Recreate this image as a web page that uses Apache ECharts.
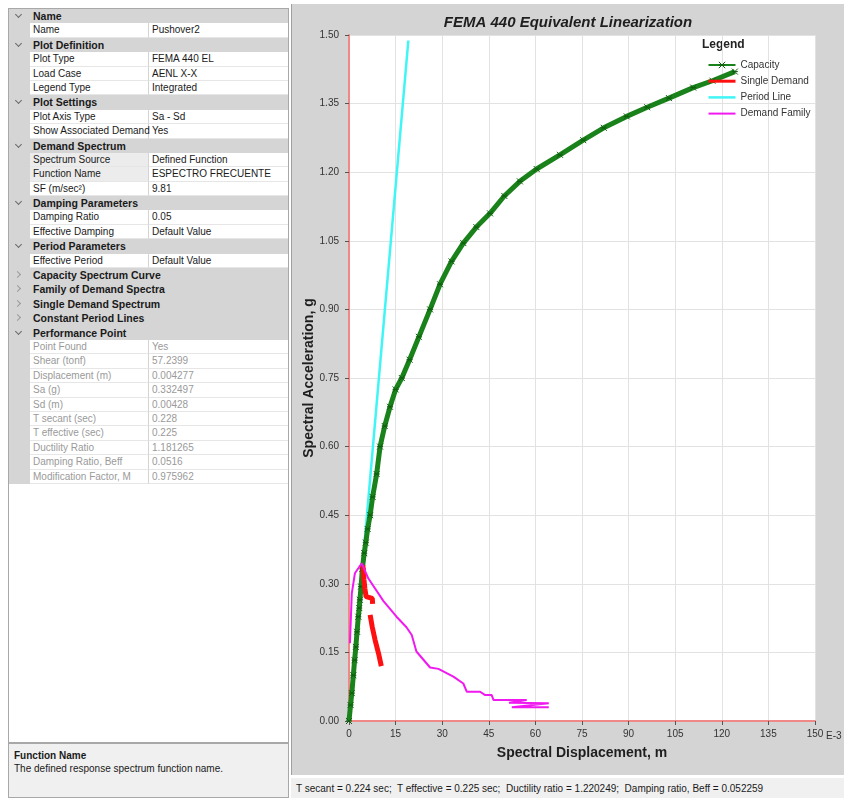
<!DOCTYPE html>
<html>
<head>
<meta charset="utf-8">
<script src="https://cdn.jsdelivr.net/npm/echarts@6/dist/echarts.min.js"></script>
<style>
body { margin: 0; width: 844px; height: 798px; background: #fff; overflow: hidden; position: relative; font-family: "Liberation Sans", Arial, sans-serif; }
#props { position: absolute; left: 8px; top: 8px; width: 281px; height: 735px; border: 1px solid #a8a8a8; box-sizing: border-box; background: #fff; }
.row { height: 14.4px; display: flex; font-size: 10px; line-height: 14px; color: #1a1a1a; white-space: nowrap; overflow: hidden; }
.gut { width: 21px; flex: none; background: #d5d5d5; position: relative; }
.cat { flex: 1; background: #d5d5d5; font-weight: bold; font-size: 10.5px; padding-left: 3px; }
.nm { width: 119px; flex: none; padding-left: 3px; box-sizing: border-box; border-right: 1px solid #d4d4d4; border-bottom: 1px solid #e6e6e6; }
.val { flex: 1; padding-left: 3px; border-bottom: 1px solid #e6e6e6; }
.ro { color: #9a9a9a; }
.sel { background: #ececec; }
.chev { position: absolute; left: 7px; top: 3px; width: 4px; height: 4px; border-right: 1px solid #6a6a6a; border-bottom: 1px solid #6a6a6a; transform: rotate(45deg); }
.chev.closed { left: 6px; top: 4px; transform: rotate(-45deg); border-color: #9a9a9a; }
#desc { position: absolute; left: 8px; top: 743px; width: 281px; height: 55px; background: #f0f0f0; border: 1px solid #a8a8a8; box-sizing: border-box; font-size: 10px; padding: 6px 0 0 5px; color: #1a1a1a; }
#desc b { display: block; margin-bottom: 2px; }
#chart { position: absolute; left: 291px; top: 4px; width: 553px; height: 771px; border-left: 1px solid #a0a0a0; box-sizing: border-box; }
#status { position: absolute; left: 291px; top: 777px; width: 553px; height: 21px; background: #f0f0f0; border-top: 1px solid #fff; font-size: 10px; line-height: 22px; padding-left: 5px; box-sizing: border-box; color: #1a1a1a; white-space: pre; }
</style>
</head>
<body>
<div id="props"></div>
<div id="desc"><b>Function Name</b>The defined response spectrum function name.</div>
<div id="chart"></div>
<div id="status">T secant = 0.224 sec;  T effective = 0.225 sec;  Ductility ratio = 1.220249;  Damping ratio, Beff = 0.052259</div>
<script>
// property grid rows: [type, name, value]  type: c = open category, k = closed category, r = row, g = read-only row, s = selected row
const propRows = [
  ['c', 'Name'],
  ['r', 'Name', 'Pushover2'],
  ['c', 'Plot Definition'],
  ['r', 'Plot Type', 'FEMA 440 EL'],
  ['r', 'Load Case', 'AENL X-X'],
  ['r', 'Legend Type', 'Integrated'],
  ['c', 'Plot Settings'],
  ['r', 'Plot Axis Type', 'Sa - Sd'],
  ['r', 'Show Associated Demand', 'Yes'],
  ['c', 'Demand Spectrum'],
  ['s', 'Spectrum Source', 'Defined Function'],
  ['s', 'Function Name', 'ESPECTRO FRECUENTE'],
  ['r', 'SF (m/sec²)', '9.81'],
  ['c', 'Damping Parameters'],
  ['r', 'Damping Ratio', '0.05'],
  ['r', 'Effective Damping', 'Default Value'],
  ['c', 'Period Parameters'],
  ['r', 'Effective Period', 'Default Value'],
  ['k', 'Capacity Spectrum Curve'],
  ['k', 'Family of Demand Spectra'],
  ['k', 'Single Demand Spectrum'],
  ['k', 'Constant Period Lines'],
  ['c', 'Performance Point'],
  ['g', 'Point Found', 'Yes'],
  ['g', 'Shear (tonf)', '57.2399'],
  ['g', 'Displacement (m)', '0.004277'],
  ['g', 'Sa (g)', '0.332497'],
  ['g', 'Sd (m)', '0.00428'],
  ['g', 'T secant (sec)', '0.228'],
  ['g', 'T effective (sec)', '0.225'],
  ['g', 'Ductility Ratio', '1.181265'],
  ['g', 'Damping Ratio, Beff', '0.0516'],
  ['g', 'Modification Factor, M', '0.975962']
]

const props = document.getElementById('props')
propRows.forEach(r => {
  const div = document.createElement('div')
  div.className = 'row'
  if (r[0] === 'c' || r[0] === 'k') {
    div.innerHTML = `<div class="gut"><span class="chev${r[0] === 'k' ? ' closed' : ''}"></span></div><div class="cat">${r[1]}</div>`
  } else {
    const cls = r[0] === 'g' ? ' ro' : ''
    const sel = r[0] === 's' ? ' sel' : ''
    div.innerHTML = `<div class="gut"></div><div class="nm${cls}${sel}">${r[1]}</div><div class="val${cls}">${r[2]}</div>`
  }
  props.appendChild(div)
})

// chart data: [Sd (mm, E-3 m), Sa (g)]
const capacity = [
  [0, 0], [0.5, 0.035], [0.9, 0.061], [1.4, 0.1], [1.8, 0.133], [2.2, 0.162], [2.6, 0.195],
  [3.0, 0.228], [3.3, 0.247], [3.5, 0.265], [3.9, 0.294], [4.3, 0.333], [4.9, 0.367],
  [5.4, 0.39], [6.0, 0.42], [6.8, 0.45], [7.6, 0.49], [8.9, 0.54], [10.0, 0.6],
  [11.5, 0.645], [13.2, 0.687], [15.0, 0.725], [17.0, 0.75], [19.5, 0.79], [22.5, 0.84],
  [26.1, 0.9], [29.3, 0.955], [33, 1.005], [36.8, 1.045], [41, 1.08], [45.4, 1.11],
  [50, 1.148], [55, 1.18], [60.4, 1.207], [67.9, 1.238], [75.4, 1.27], [82, 1.297],
  [89.4, 1.322], [96, 1.342], [103, 1.362], [110.8, 1.385], [117, 1.4], [124.2, 1.42]
]
const singleDemand = [
  [4.3, 0.34], [4.6, 0.334], [4.8, 0.31], [5.1, 0.29], [5.5, 0.272], [7.5, 0.268], [7.6, 0.256], null,
  [6.8, 0.232], [7.5, 0.205], [8.4, 0.177], [9.5, 0.148], [10.4, 0.12]
]
const periodLine = [[0, 0], [19.1, 1.488]]
const demandFamily = [
  [0.3, 0.17], [0.9, 0.279], [1.9, 0.323], [4.1, 0.345], [6.2, 0.312], [11.1, 0.262],
  [15.3, 0.228], [18.5, 0.205], [20.2, 0.188], [21.7, 0.152], [26.1, 0.117], [28.8, 0.114],
  [33.6, 0.097], [36.8, 0.082], [37.9, 0.064], [42.2, 0.064], [43.7, 0.057], [45.9, 0.057],
  [46.5, 0.046], [57.2, 0.046], [51.5, 0.04], [64.3, 0.039], [52.4, 0.03], [64.3, 0.03]
]
const xTicks = { min: 0, max: 150, interval: 15 }
const yTicks = { min: 0, max: 1.5, interval: 0.15 }

const myChart = echarts.init(document.getElementById('chart'))
const font = '"Liberation Sans", Arial, sans-serif'
const xMark = 'path://M0,0L10,10M10,0L0,10M0,5L10,5'

const option = {
  backgroundColor: '#d4d4d4',
  animation: false,
  textStyle: { fontFamily: font },
  title: {
    text: 'FEMA 440 Equivalent Linearization',
    left: 'center',
    top: 6,
    textStyle: { fontSize: 15, fontWeight: 'bold', fontStyle: 'italic', color: '#1e1e1e', fontFamily: font }
  },
  graphic: [
    { type: 'text', left: 410, top: 35, style: { text: 'Legend', font: 'bold 12px ' + font, fill: '#222' } },
    { type: 'text', left: 534, top: 727, style: { text: 'E-3', font: '10px ' + font, fill: '#333' } }
  ],
  legend: {
    orient: 'vertical',
    left: 410,
    top: 50,
    itemWidth: 27,
    itemHeight: 8,
    itemGap: 4.2,
    textStyle: { fontSize: 10, color: '#333', fontFamily: font, lineHeight: 12 },
    data: [
      { name: 'Capacity', lineStyle: { width: 2 }, itemStyle: { borderWidth: 1 } },
      { name: 'Single Demand', lineStyle: { width: 3 }, itemStyle: { opacity: 0 } },
      { name: 'Period Line', lineStyle: { width: 2.5 }, itemStyle: { opacity: 0 } },
      { name: 'Demand Family', lineStyle: { width: 2 }, itemStyle: { opacity: 0 } }
    ]
  },
  grid: {
    left: 57, right: 29, top: 31, bottom: 54,
    outerBoundsMode: 'none',
    show: true, backgroundColor: '#ffffff', borderWidth: 0
  },
  xAxis: {
    type: 'value',
    min: xTicks.min, max: xTicks.max, interval: xTicks.interval,
    name: 'Spectral Displacement, m',
    nameLocation: 'middle',
    nameGap: 25,
    nameMoveOverlap: false,
    nameTextStyle: { fontSize: 14, fontWeight: 'bold', color: '#1e1e1e', fontFamily: font },
    axisLine: { lineStyle: { color: '#f08888', width: 2 } },
    axisTick: { length: 4, lineStyle: { color: '#555' } },
    axisLabel: { fontSize: 10, color: '#333', margin: 8 },
    splitLine: { lineStyle: { color: '#e2e2e2' } }
  },
  yAxis: {
    type: 'value',
    min: yTicks.min, max: yTicks.max, interval: yTicks.interval,
    name: 'Spectral Acceleration, g',
    nameLocation: 'middle',
    nameGap: 33,
    nameMoveOverlap: false,
    nameTextStyle: { fontSize: 14, fontWeight: 'bold', color: '#1e1e1e', fontFamily: font },
    axisLine: { lineStyle: { color: '#f08888', width: 2 } },
    axisTick: { length: 4, lineStyle: { color: '#555' } },
    axisLabel: { fontSize: 10, color: '#333', margin: 10, formatter: v => v.toFixed(2) },
    splitLine: { lineStyle: { color: '#e2e2e2' } }
  },
  series: [
    {
      name: 'Period Line', type: 'line', data: periodLine, symbol: 'none', z: 2,
      lineStyle: { color: '#3ff5f5', width: 2.5 }, itemStyle: { color: '#3ff5f5' }
    },
    {
      name: 'Capacity', type: 'line', data: capacity, z: 3,
      symbol: xMark, symbolSize: 6,
      lineStyle: { color: '#1a821a', width: 5 },
      itemStyle: { color: '#1a821a', borderColor: '#0e5e0e', borderWidth: 1 }
    },
    {
      name: 'Single Demand', type: 'line', data: singleDemand, symbol: 'none', z: 4,
      connectNulls: false,
      lineStyle: { color: '#ff1010', width: 5 }, itemStyle: { color: '#ff1010' }
    },
    {
      name: 'Demand Family', type: 'line', data: demandFamily, symbol: 'none', z: 5,
      lineStyle: { color: '#f01af0', width: 2 }, itemStyle: { color: '#f01af0' }
    }
  ]
}

myChart.setOption(option)
</script>
</body>
</html>
